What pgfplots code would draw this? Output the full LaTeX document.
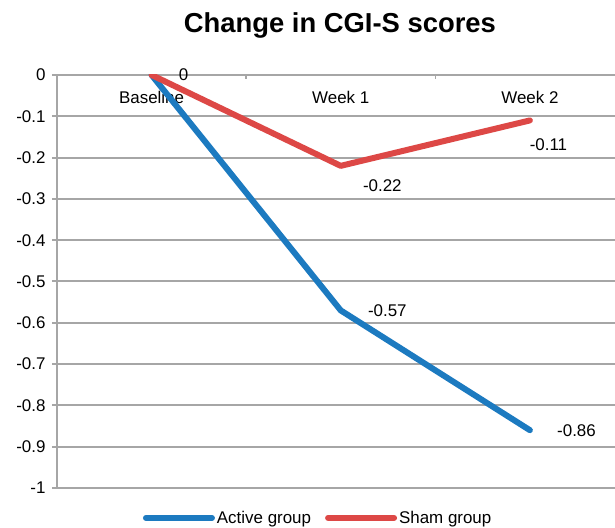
\documentclass[border=0pt]{standalone}
\usepackage{fontspec}
\setmainfont{Liberation Sans}
\usepackage{pgfplots}
\pgfplotsset{compat=1.18}
\definecolor{actblue}{RGB}{28,122,192}
\definecolor{shamred}{RGB}{221,72,70}
\definecolor{gridgrey}{RGB}{166,166,166}
\newcommand{\lbl}{\fontsize{17}{20}\selectfont}
\begin{document}
\begin{tikzpicture}[x=1bp,y=1bp]
\begin{axis}[
  at={(0,0)}, anchor=south west,
  scale only axis, width=558bp, height=413bp,
  xmin=-0.5, xmax=2.45, ymin=-1, ymax=0,
  axis x line*=top, axis y line*=left,
  axis line style={gridgrey, line width=2bp},
  x axis line style={-}, y axis line style={-},
  xtick={0,1,2}, xticklabels={Baseline, Week 1, Week 2},
  major x tick style={draw=none},
  minor xtick={0.5,1.5},
  minor x tick style={gridgrey, line width=1.5bp, yshift=-4bp},
  minor tick length=4bp,
  xticklabel style={anchor=north, yshift=-18bp},
  ytick={0,-0.1,-0.2,-0.3,-0.4,-0.5,-0.6,-0.7,-0.8,-0.9,-1},
  yticklabel style={/pgf/number format/fixed, /pgf/number format/precision=1, xshift=-3bp},
  major y tick style={gridgrey, line width=2bp},
  major tick length=5bp,
  tick align=outside,
  ymajorgrids, major grid style={gridgrey, line width=2bp},
  /pgf/number format/assume math mode=true,
  tick label style={font=\lbl, text=black},
  title={\fontsize{27.5}{32}\selectfont\bfseries Change in CGI-S scores},
  title style={at={(0.507,1)}, anchor=base, yshift=37bp},
  legend style={at={(0.468,0)}, anchor=south, yshift=-39bp, draw=none,
    font=\lbl, legend columns=2, inner sep=0pt,
    /tikz/every even column/.append style={column sep=12bp}},
  legend image code/.code={\draw[#1, line cap=round] (-3bp,0bp) -- (63bp,0bp);},
  every axis plot/.append style={line width=6bp, line join=round, line cap=round},
]
\addplot[actblue, nodes near coords,
  nodes near coords style={anchor=west, xshift=21bp, text=black,
    font=\lbl,
    /pgf/number format/fixed, /pgf/number format/precision=2,
    /pgf/number format/assume math mode=true}]
  coordinates {(0,0) (1,-0.57) (2,-0.86)};
\addlegendentry{Active group}
\addplot[shamred] coordinates {(0,0) (1,-0.22) (2,-0.11)};
\addlegendentry{Sham group}
\node[font=\lbl] at (axis cs:1.22,-0.269) {-0.22};
\node[font=\lbl] at (axis cs:2.098,-0.169) {-0.11};
\end{axis}
\pgfresetboundingbox
\useasboundingbox (-57,-40) rectangle (558,488);
\end{tikzpicture}
\end{document}
